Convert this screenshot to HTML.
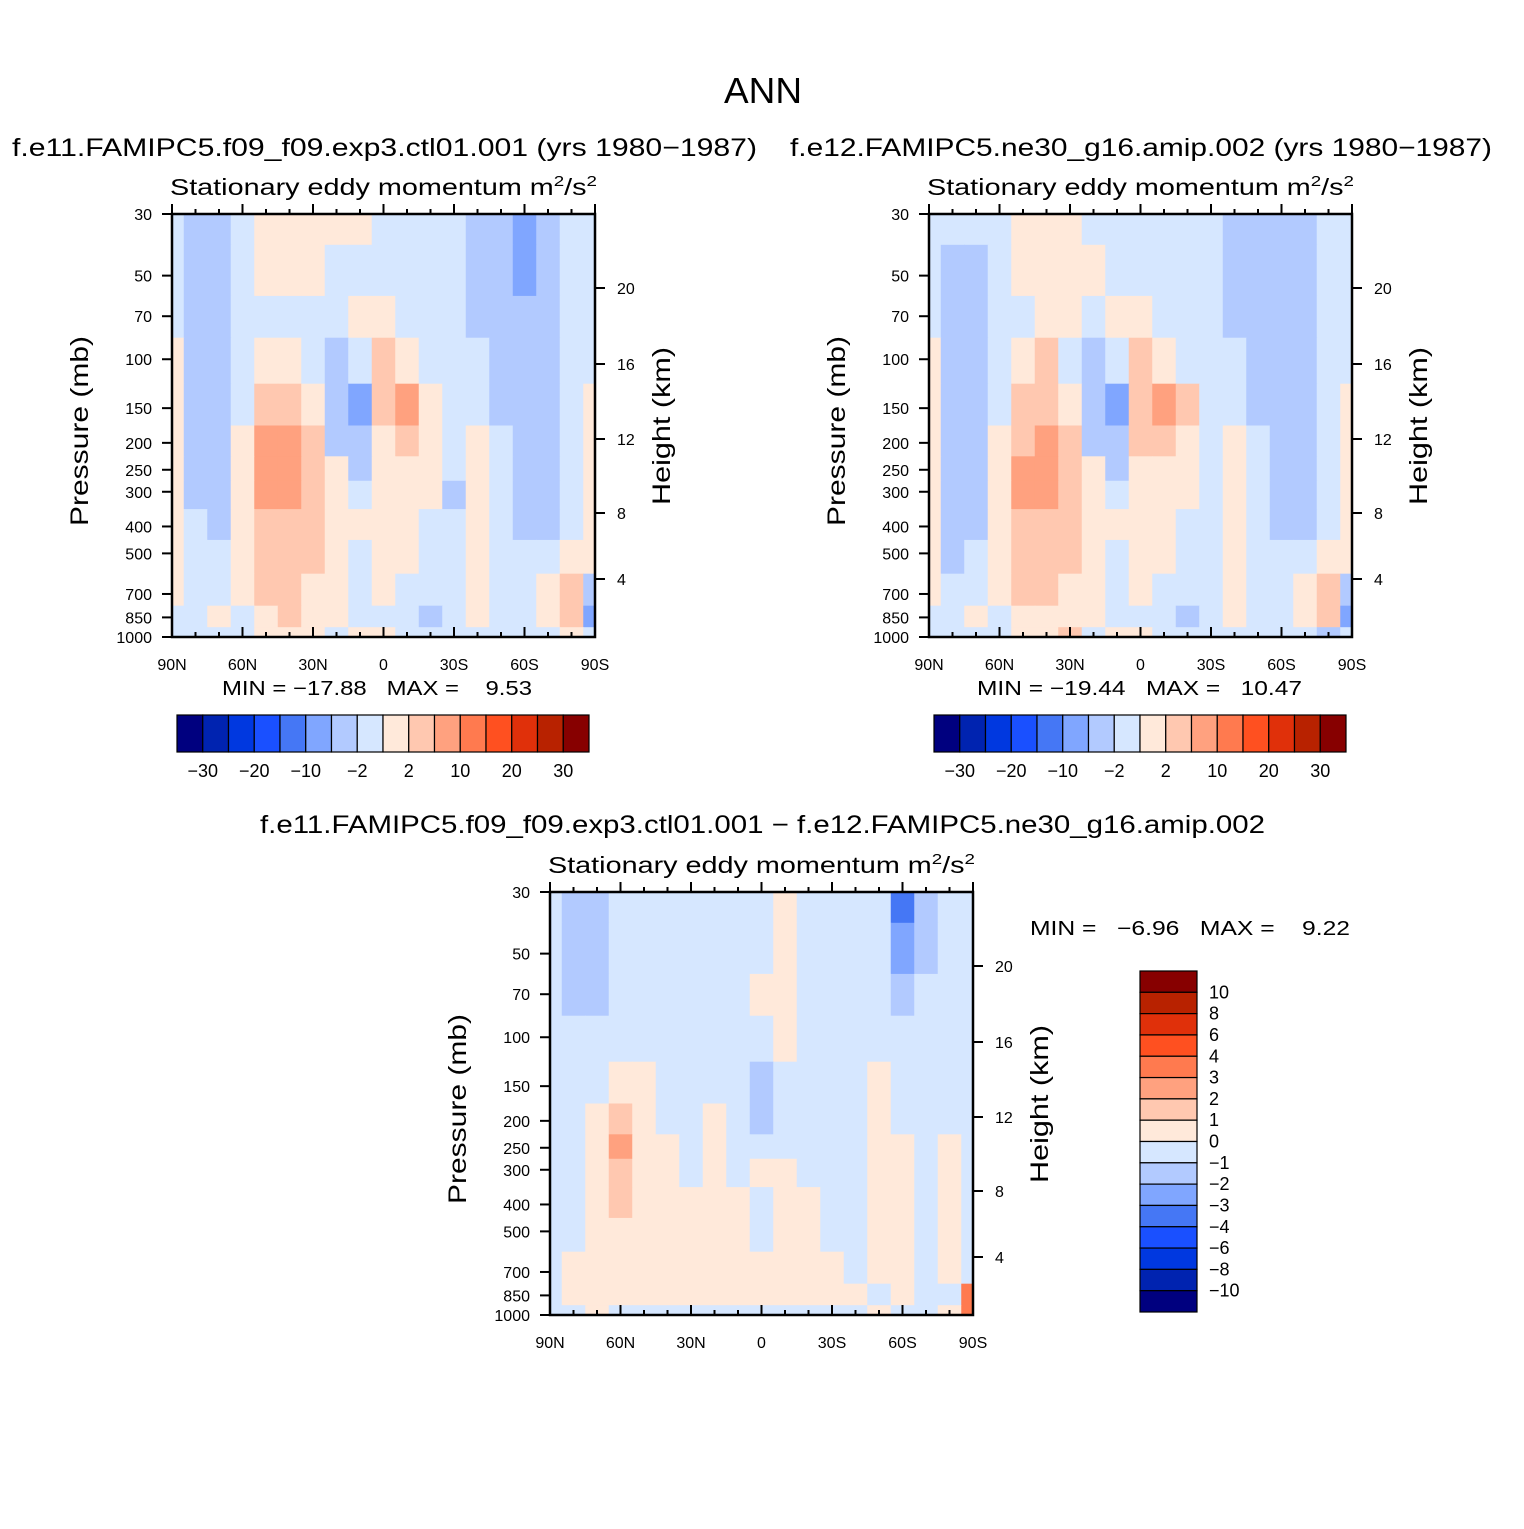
<!DOCTYPE html>
<html><head><meta charset="utf-8"><style>
body{margin:0;background:#fff}
svg text{font-family:"Liberation Sans","DejaVu Sans",sans-serif;fill:#000}
</style></head><body>
<svg id="fig" width="1524" height="1524" viewBox="0 0 1524 1524" xmlns="http://www.w3.org/2000/svg">
<rect width="1524" height="1524" fill="#fff"/>
<text x="724" y="103" font-size="36" textLength="78" lengthAdjust="spacingAndGlyphs">ANN</text>
<text x="12" y="156" font-size="25" textLength="745" lengthAdjust="spacingAndGlyphs">f.e11.FAMIPC5.f09_f09.exp3.ctl01.001 (yrs 1980−1987)</text>
<text x="790" y="156" font-size="25" textLength="702" lengthAdjust="spacingAndGlyphs">f.e12.FAMIPC5.ne30_g16.amip.002 (yrs 1980−1987)</text>
<text x="260" y="833" font-size="25" textLength="1005" lengthAdjust="spacingAndGlyphs">f.e11.FAMIPC5.f09_f09.exp3.ctl01.001 − f.e12.FAMIPC5.ne30_g16.amip.002</text>
<g id="root"></g>
</svg>
<script>
const lats=[90,80,70,60,50,40,30,20,10,0,-10,-20,-30,-40,-50,-60,-70,-80,-90];
const presLevels=[30,50,70,100,150,200,250,300,400,500,700,850,1000];
const pTicks=[30,50,70,100,150,200,250,300,400,500,700,850,1000];
const kmTicks=[20,16,12,8,4];
const kmOffsets=[74,150,225,299,365];
const latTickLabels=['90N','60N','30N','0','30S','60S','90S'];
const latTickVals=[90,60,30,0,-30,-60,-90];
const absLevels=[-30,-25,-20,-15,-10,-5,-2,0,2,5,10,15,20,25,30];
const absLabels=['−30','−20','−10','−2','2','10','20','30'];
const diffLevels=[-10,-8,-6,-4,-3,-2,-1,0,1,2,3,4,6,8,10];
const diffLabels=['10','8','6','4','3','2','1','0','−1','−2','−3','−4','−6','−8','−10'];
const colors=['#00007f','#0023b0','#0038e0','#1a50ff','#4577f5','#80a6ff','#b2caff','#d6e7ff','#ffe9da','#ffc8b0','#ffa17f','#ff7a4f','#ff5020','#e0300a','#b82200','#870000'];
const gridA=[
[-1,-3,-3,-1,1,1,1,1,1,-1,-1,-1,-1,-3,-4,-7,-3,-1,-1],
[-1,-3,-3,-1,1,1,1,-1,-1,-1,-1,-1,-1,-3,-4,-5,-3,-1,-1],
[-1,-3,-3,-1,-1,-1,-1,-1,1,1,-1,-1,-1,-3,-3,-3,-3,-1,-1],
[1,-3,-3,-1,1,1,-1,-3,-1,3,1,-1,-1,-1,-3,-3,-3,-1,-1],
[1,-3,-3,-1,3,3,1,-3,-6,3,6,1,-1,-1,-3,-3,-3,-1,1],
[1,-3,-3,1,6,6,3,-3,-3,1,3,1,-1,1,-1,-3,-3,-1,1],
[1,-3,-3,1,6,7,3,1,-3,1,1,1,-1,1,-1,-3,-3,-1,1],
[1,-3,-3,1,6,6,3,1,-1,1,1,1,-3,1,-1,-3,-3,-1,1],
[1,-1,-3,1,3,3,3,1,1,1,1,-1,-1,1,-1,-3,-3,-1,1],
[1,-1,-1,1,3,3,3,1,-1,1,1,-1,-1,1,-1,-1,-1,1,1],
[1,-1,-1,1,3,3,1,1,-1,1,-1,-1,-1,1,-1,-1,1,3,-3],
[-1,-1,1,-1,1,3,1,1,-1,-1,-1,-3,-1,1,-1,-1,1,3,-5],
[-1,-1,-1,-1,1,1,1,-1,1,1,-1,-1,-1,-1,-1,-1,-1,1,-1]];
const gridB=[
[-1,-1,-1,-1,1,1,1,-1,-1,-1,-1,-1,-1,-3,-3,-4,-3,-1,-1],
[-1,-3,-3,-1,1,1,1,1,-1,-1,-1,-1,-1,-3,-3,-3,-3,-1,-1],
[-1,-3,-3,-1,-1,1,1,-1,1,1,-1,-1,-1,-3,-3,-3,-3,-1,-1],
[1,-3,-3,-1,1,3,-1,-3,-1,3,1,-1,-1,-1,-3,-3,-3,-1,-1],
[1,-3,-3,-1,3,3,1,-3,-6,3,7,3,-1,-1,-3,-3,-3,-1,1],
[1,-3,-3,1,3,6,3,-3,-3,3,3,1,-1,1,-1,-3,-3,-1,1],
[1,-3,-3,1,6,6,3,1,-3,1,1,1,-1,1,-1,-3,-3,-1,1],
[1,-3,-3,1,6,6,3,1,-1,1,1,1,-1,1,-1,-3,-3,-1,1],
[1,-3,-3,1,3,3,3,1,1,1,1,-1,-1,1,-1,-3,-3,-1,1],
[1,-3,-1,1,3,3,3,1,-1,1,1,-1,-1,1,-1,-1,-1,1,1],
[1,-1,-1,1,3,3,1,1,-1,1,-1,-1,-1,1,-1,-1,1,3,-3],
[-1,-1,1,-1,1,1,1,1,-1,-1,-1,-3,-1,1,-1,-1,1,3,-5],
[-1,-1,-1,-1,1,1,3,-1,1,1,-1,-1,-1,-1,-1,-1,-1,-3,-1]];
const gridD=[
[-0.5,-1.5,-1.5,-0.5,-0.5,-0.5,-0.5,-0.5,-0.5,-0.5,0.5,-0.5,-0.5,-0.5,-0.5,-3.5,-1.5,-0.5,-0.5],
[-0.5,-1.5,-1.5,-0.5,-0.5,-0.5,-0.5,-0.5,-0.5,-0.5,0.5,-0.5,-0.5,-0.5,-0.5,-2.5,-1.5,-0.5,-0.5],
[-0.5,-1.5,-1.5,-0.5,-0.5,-0.5,-0.5,-0.5,-0.5,0.5,0.5,-0.5,-0.5,-0.5,-0.5,-1.5,-0.5,-0.5,-0.5],
[-0.5,-0.5,-0.5,-0.5,-0.5,-0.5,-0.5,-0.5,-0.5,-0.5,0.5,-0.5,-0.5,-0.5,-0.5,-0.5,-0.5,-0.5,-0.5],
[-0.5,-0.5,-0.5,0.5,0.5,-0.5,-0.5,-0.5,-0.5,-1.5,-0.5,-0.5,-0.5,-0.5,0.5,-0.5,-0.5,-0.5,-0.5],
[-0.5,-0.5,0.5,1.5,0.5,-0.5,-0.5,0.5,-0.5,-1.5,-0.5,-0.5,-0.5,-0.5,0.5,-0.5,-0.5,-0.5,-0.5],
[-0.5,-0.5,0.5,2.5,0.5,0.5,-0.5,0.5,-0.5,-0.5,-0.5,-0.5,-0.5,-0.5,0.5,0.5,-0.5,0.5,-0.5],
[-0.5,-0.5,0.5,1.5,0.5,0.5,-0.5,0.5,-0.5,0.5,0.5,-0.5,-0.5,-0.5,0.5,0.5,-0.5,0.5,-0.5],
[-0.5,-0.5,0.5,1.5,0.5,0.5,0.5,0.5,0.5,-0.5,0.5,0.5,-0.5,-0.5,0.5,0.5,-0.5,0.5,-0.5],
[-0.5,-0.5,0.5,0.5,0.5,0.5,0.5,0.5,0.5,-0.5,0.5,0.5,-0.5,-0.5,0.5,0.5,-0.5,0.5,-0.5],
[-0.5,0.5,0.5,0.5,0.5,0.5,0.5,0.5,0.5,0.5,0.5,0.5,0.5,-0.5,0.5,0.5,-0.5,0.5,-0.5],
[-0.5,0.5,0.5,0.5,0.5,0.5,0.5,0.5,0.5,0.5,0.5,0.5,0.5,0.5,-0.5,0.5,-0.5,-0.5,3.5],
[-0.5,-0.5,0.5,-0.5,-0.5,-0.5,-0.5,-0.5,-0.5,-0.5,-0.5,-0.5,-0.5,-0.5,0.5,-0.5,-0.5,0.5,3.5]];

const NS='http://www.w3.org/2000/svg';
const root=document.getElementById('root');
function mk(tag,attrs,parent){const e=document.createElementNS(NS,tag);for(const k in attrs)e.setAttribute(k,attrs[k]);(parent||root).appendChild(e);return e;}
function colorFor(v,levels){let i=0;while(i<levels.length&&v>levels[i])i++;return colors[i];}
const W=423,H=423;

function drawPanel(ox,oy,grid,levels,name){
  const g=mk('g',{});
  
  
  const xS=lat=>ox+(90-lat)/180*W;
  const yS=p=>oy+Math.log(p/30)/Math.log(1000/30)*H;
  const cw=W/18;
  for(let r=0;r<presLevels.length;r++){
    const yTop=r===0?oy:yS(Math.sqrt(presLevels[r]*presLevels[r-1]));
    const yBot=r===presLevels.length-1?oy+H:yS(Math.sqrt(presLevels[r]*presLevels[r+1]));
    for(let c=0;c<lats.length;c++){
      const x0=Math.max(ox,xS(lats[c])-cw/2),x1=Math.min(ox+W,xS(lats[c])+cw/2);
      const cell=mk('rect',{x:x0,y:yTop,width:x1-x0+0.6,height:yBot-yTop+0.6,fill:colorFor(grid[r][c],levels)},g);
      
      
    }
  }
  const fr=mk('rect',{x:ox,y:oy,width:W,height:H,fill:'none',stroke:'#000','stroke-width':2.5},g);
  
  
  for(let l=90;l>=-90;l-=10){
    const x=xS(l),len=(l%30===0)?10:5;
    mk('line',{x1:x,y1:oy+H,x2:x,y2:oy+H-len,stroke:'#000','stroke-width':2},g);
    mk('line',{x1:x,y1:oy,x2:x,y2:oy-len,stroke:'#000','stroke-width':2},g);
  }
  latTickVals.forEach((l,i)=>{
    const t=mk('text',{x:xS(l),y:oy+H+33,'font-size':16,'text-anchor':'middle'},g);
    t.textContent=latTickLabels[i];
    
    
  });
  pTicks.forEach(p=>{
    const y=yS(p);
    mk('line',{x1:ox,y1:y,x2:ox-10,y2:y,stroke:'#000','stroke-width':2},g);
    const t=mk('text',{x:ox-20,y:y+6,'font-size':16,'text-anchor':'end'},g);
    t.textContent=p;
    
    
  });
  kmTicks.forEach((k,i)=>{
    const y=oy+kmOffsets[i];
    mk('line',{x1:ox+W,y1:y,x2:ox+W+10,y2:y,stroke:'#000','stroke-width':2},g);
    const t=mk('text',{x:ox+W+22,y:y+6,'font-size':16},g);
    t.textContent=k;
    
    
  });
  const yt=mk('text',{x:0,y:0,'font-size':25,'text-anchor':'middle',textLength:190,lengthAdjust:'spacingAndGlyphs',transform:`translate(${ox-84},${oy+217}) rotate(-90)`},g);
  yt.textContent='Pressure (mb)';
  
  
  const rt=mk('text',{x:0,y:0,'font-size':25,'text-anchor':'middle',textLength:158,lengthAdjust:'spacingAndGlyphs',transform:`translate(${ox+W+75},${oy+212}) rotate(-90)`},g);
  rt.textContent='Height (km)';
  
  
  const st=mk('text',{x:ox-2,y:oy-19,'font-size':23,textLength:427,lengthAdjust:'spacingAndGlyphs'},g);
  st.innerHTML='Stationary eddy momentum  m<tspan dy="-9" font-size="15">2</tspan><tspan dy="9">/s</tspan><tspan dy="-9" font-size="15">2</tspan>';
  
  
}

function hColorbar(x,y,w,h,name){
  const g=mk('g',{});
  
  
  const bw=w/16;
  colors.forEach((c,i)=>{
    const b=mk('rect',{x:x+i*bw,y:y,width:bw,height:h,fill:c,stroke:'#000','stroke-width':1.2},g);
    
    
  });
  absLabels.forEach((lab,i)=>{
    const t=mk('text',{x:x+(1+2*i)*bw,y:y+h+25,'font-size':18,'text-anchor':'middle'},g);
    t.textContent=lab;
    
    
  });
}
function vColorbar(x,y,w,h,name){
  const g=mk('g',{});
  
  
  const bh=h/16;
  colors.slice().reverse().forEach((c,i)=>{
    const b=mk('rect',{x:x,y:y+i*bh,width:w,height:bh,fill:c,stroke:'#000','stroke-width':1.2},g);
    
    
  });
  diffLabels.forEach((lab,i)=>{
    const t=mk('text',{x:x+w+12,y:y+(i+1)*bh+6,'font-size':18},g);
    t.textContent=lab;
    
    
  });
}
function txt(x,y,s,name,len){
  const t=mk('text',{x:x,y:y,'font-size':20,textLength:len,lengthAdjust:'spacingAndGlyphs'});
  t.textContent=s;
  
  
}
drawPanel(172,214,gridA,absLevels,'left-panel');
drawPanel(929,214,gridB,absLevels,'right-panel');
drawPanel(550,892,gridD,diffLevels,'diff-panel');
hColorbar(177,715,412,37,'left-colorbar');
hColorbar(934,715,412,37,'right-colorbar');
vColorbar(1140,971,57,341,'diff-colorbar');
txt(222,695,'MIN\u00a0=\u00a0−17.88\u00a0\u00a0\u00a0MAX\u00a0=\u00a0\u00a0\u00a0\u00a09.53','left-min-max',310);
txt(977,695,'MIN\u00a0=\u00a0−19.44\u00a0\u00a0\u00a0MAX\u00a0=\u00a0\u00a0\u00a010.47','right-min-max',325);
txt(1030,935,'MIN\u00a0=\u00a0\u00a0\u00a0−6.96\u00a0\u00a0\u00a0MAX\u00a0=\u00a0\u00a0\u00a0\u00a09.22','diff-min-max',320);
</script>
</body></html>
